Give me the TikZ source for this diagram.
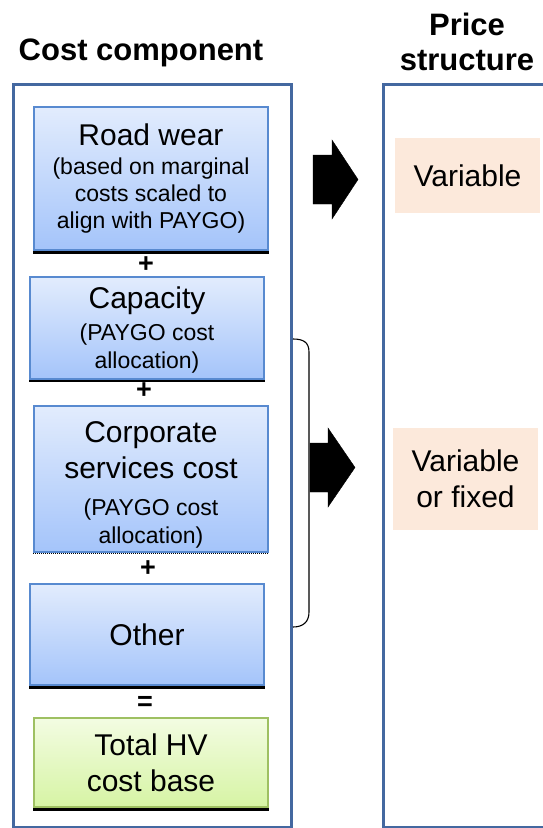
\documentclass[tikz,border=0pt]{standalone}
\usepackage{fontspec}
\setmainfont{Liberation Sans}
\newcommand\bigtxt{\fontsize{30}{36}\selectfont}
\newcommand\smtxt{\fontsize{23}{27}\selectfont}
\definecolor{panelblue}{RGB}{68,104,160}
\definecolor{boxtop}{RGB}{226,236,253}
\definecolor{boxbot}{RGB}{164,196,250}
\definecolor{boxedge}{RGB}{88,138,208}
\definecolor{grtop}{RGB}{243,252,226}
\definecolor{grbot}{RGB}{214,244,164}
\definecolor{gredge}{RGB}{158,192,98}
\definecolor{peach}{RGB}{252,233,219}
\tikzset{
  panel/.style={draw=panelblue, line width=3pt, inner sep=0pt},
  costbox/.style={draw=boxedge, line width=1.2pt, top color=boxtop, bottom color=boxbot, align=center, inner sep=0pt, font=\smtxt},
  totalbox/.style={draw=gredge, line width=1.2pt, top color=grtop, bottom color=grbot, align=center, inner sep=0pt, font=\bigtxt},
  pricebox/.style={fill=peach, align=center, inner sep=0pt, font=\bigtxt},
  shadowline/.style={black, line width=#1},
  opsign/.style={font=\fontsize{27}{27}\selectfont\bfseries, inner sep=0pt},
  header/.style={font=\fontsize{31}{35}\selectfont\bfseries, align=center, inner sep=0pt},
  blockarrow/.style={fill=black, draw=black, line width=0.4pt}
}
\begin{document}
\begin{tikzpicture}[x=1pt,y=-1pt]
\useasboundingbox (0,0) rectangle (543,828);
% panels
\node[panel, minimum width=278pt, minimum height=743pt, anchor=north west] (lp) at (12,83) {};
\node[panel, minimum width=180pt, minimum height=743pt, anchor=north west] (rp) at (382,83) {};
% headers
\node[header] (h1) at (141,53) {Cost component};
\node[header] (h2) at (467,42) {Price\\structure};
% cost boxes
\node[costbox, minimum width=234pt, minimum height=143pt] (rw) at (151,178.5)
  {{\bigtxt Road wear}\\[2pt](based on marginal\\costs scaled to\\align with PAYGO)};
\node[costbox, minimum width=234pt, minimum height=102pt] (cap) at (147,328)
  {{\bigtxt\rule{0pt}{25pt}Capacity}\\[5pt](PAYGO cost\\[1pt]allocation)};
\node[costbox, minimum width=234pt, minimum height=146pt] (corp) at (151,479)
  {{\bigtxt\rule{0pt}{32pt}Corporate}\\[7pt]{\bigtxt services cost}\\[10pt](PAYGO cost\\[1pt]allocation)};
\node[costbox, minimum width=234pt, minimum height=101pt, font=\bigtxt] (oth) at (147,634.5) {Other};
\node[totalbox, minimum width=234pt, minimum height=89pt] (tot) at (151,762.5) {Total HV\\cost base};
% shadows
\draw[shadowline=3pt] ([yshift=-2pt]rw.south west) -- ([yshift=-2pt]rw.south east);
\draw[shadowline=1.5pt] ([yshift=-1.2pt]cap.south west) -- ([yshift=-1.2pt]cap.south east);
\draw[shadowline=1pt, densely dotted] ([yshift=-1.2pt]corp.south west) -- ([yshift=-1.2pt]corp.south east);
\draw[shadowline=3pt] ([yshift=-2pt]oth.south west) -- ([yshift=-2pt]oth.south east);
\draw[shadowline=3pt] ([yshift=-2pt]tot.south west) -- ([yshift=-2pt]tot.south east);
% operators
\node[opsign] (p1) at (146,265) {+};
\node[opsign] (p2) at (144,391) {+};
\node[opsign] (p3) at (148,569) {+};
\node[opsign] (eq) at (145,703) {=};
% price boxes
\node[pricebox, minimum width=145pt, minimum height=75pt] (var) at (467.5,175.5) {Variable};
\node[pricebox, minimum width=145pt, minimum height=102pt] (vof) at (465.5,479) {Variable\\or fixed};
% brace
\coordinate (bt) at (293,339);
\coordinate (bb) at (293,627);
\draw[line width=1.1pt] (bt) .. controls (303,339) and (309,342) .. (309,352)
  -- (309,612) .. controls (309,622) and (303,627) .. (bb);
% block arrows
\fill[blockarrow] (313,155) -- (332,155) -- (332,140) -- (358,179.5) -- (332,219) -- (332,204) -- (313,204) -- cycle;
\fill[blockarrow] (310,443) -- (328,443) -- (328,428) -- (355,467.5) -- (328,507) -- (328,492) -- (310,492) -- cycle;
\end{tikzpicture}
\end{document}
